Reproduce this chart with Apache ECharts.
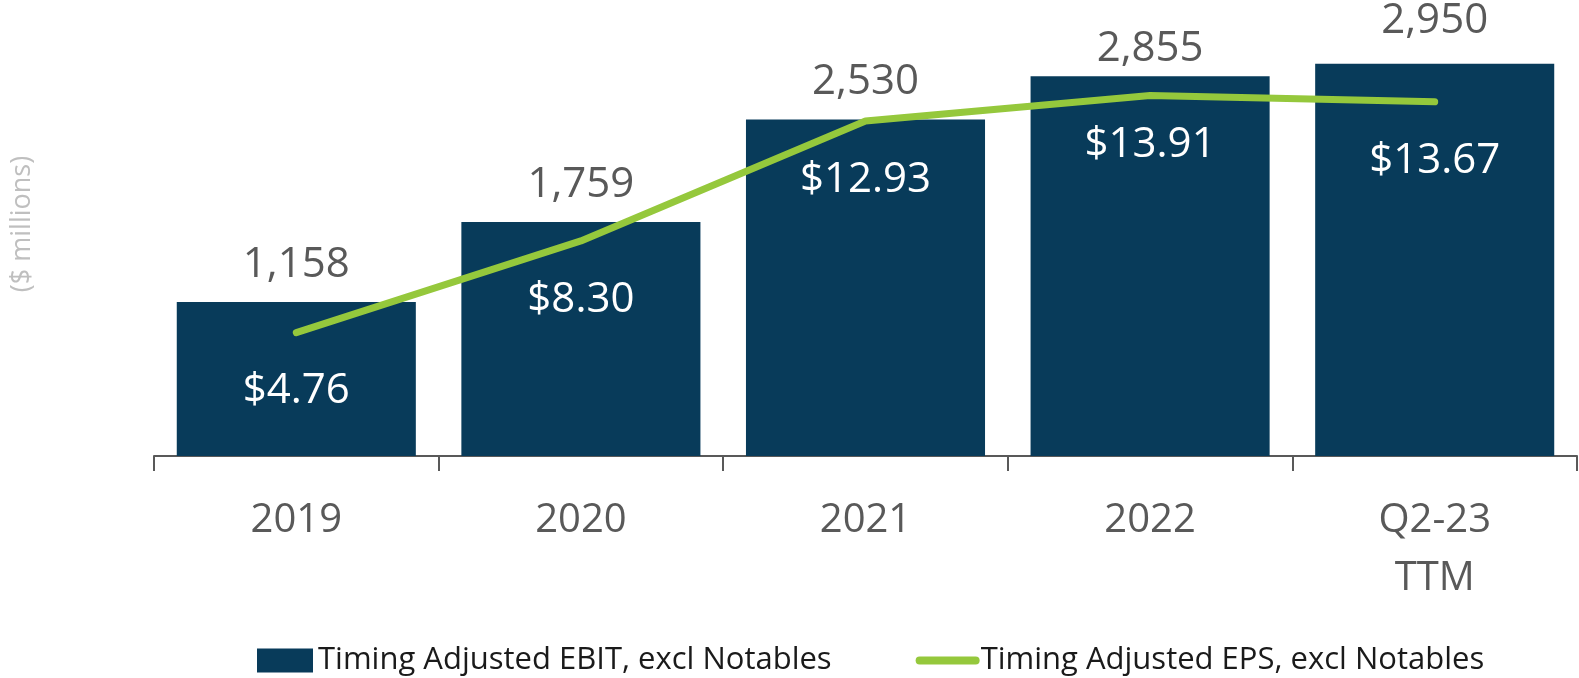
<!DOCTYPE html>
<html>
<head>
<meta charset="utf-8">
<script src="https://cdn.jsdelivr.net/npm/echarts@6/dist/echarts.min.js"></script>
<style>
  html, body { margin: 0; padding: 0; background: #fff; }
  #chart { width: 1579px; height: 678px; }
</style>
</head>
<body>
<div id="chart"></div>
<script>
// categories on the x axis
const categories = ['2019', '2020', '2021', '2022', 'Q2-23\nTTM'];
// Timing Adjusted EBIT, excl Notables ($ millions)
const ebitValues = [1158, 1759, 2530, 2855, 2950];
// Timing Adjusted EPS, excl Notables ($)
const epsValues = [4.76, 8.30, 12.93, 13.91, 13.67];

const ebitName = 'Timing Adjusted EBIT, excl Notables';
const epsName = 'Timing Adjusted EPS, excl Notables';

const font = "'Open Sans', 'Noto Sans', sans-serif";
const navy = '#083b5a';
const green = '#95c83c';

// label gaps are not uniform in the original slide
const ebitLabelGap = [16, 16, 16, 6, 22];
const epsLabelGap = [37, 38, 38, 28, 38];

const chart = echarts.init(document.getElementById('chart'));

chart.setOption({
    animation: false,
    textStyle: { fontFamily: font },
    grid: {
        left: 154,
        right: 2,
        top: 57,
        bottom: 222
    },
    legend: {
        bottom: -3,
        left: 252,
        itemGap: 84,
        itemWidth: 56,
        itemHeight: 24,
        textStyle: { fontFamily: font, fontSize: 31, color: '#1a1a1a' },
        data: [
            { name: ebitName, icon: 'rect' },
            // keep only the thick line in the legend icon
            { name: epsName, itemStyle: { opacity: 0 }, lineStyle: { width: 8, cap: 'round' } }
        ]
    },
    xAxis: {
        type: 'category',
        data: categories,
        axisLine: { lineStyle: { color: '#595959', width: 2 } },
        axisTick: { show: true, length: 15, lineStyle: { color: '#595959', width: 2 } },
        axisLabel: {
            color: '#595959',
            fontSize: 40,
            lineHeight: 58,
            margin: 36,
            fontFamily: font
        }
    },
    yAxis: [
        { type: 'value', min: 0, max: 3000, show: false },
        { type: 'value', min: 0, max: 15.4, show: false }
    ],
    graphic: [
        {
            type: 'text',
            x: 22,
            y: 224,
            rotation: Math.PI / 2,
            style: {
                text: '($ millions)',
                fill: '#bfbfbf',
                fontSize: 27,
                fontFamily: font,
                align: 'center',
                verticalAlign: 'middle'
            }
        }
    ],
    series: [
        {
            name: ebitName,
            type: 'bar',
            yAxisIndex: 0,
            barCategoryGap: '16%',
            data: ebitValues.map((v, i) => ({
                value: v,
                label: { distance: ebitLabelGap[i] }
            })),
            itemStyle: { color: navy },
            label: {
                show: true,
                position: 'top',
                color: '#595959',
                fontSize: 42,
                fontFamily: font,
                formatter: p => p.value.toLocaleString('en-US')
            }
        },
        {
            name: epsName,
            type: 'line',
            yAxisIndex: 1,
            symbol: 'circle',
            symbolSize: 0,
            z: 5,
            lineStyle: { color: green, width: 7, cap: 'round' },
            itemStyle: { color: green },
            data: epsValues.map((v, i) => ({
                value: v,
                label: { distance: epsLabelGap[i] }
            })),
            label: {
                show: true,
                position: 'bottom',
                color: '#ffffff',
                fontSize: 42,
                fontFamily: font,
                formatter: p => '$' + p.value.toFixed(2)
            }
        }
    ]
});
</script>
</body>
</html>
